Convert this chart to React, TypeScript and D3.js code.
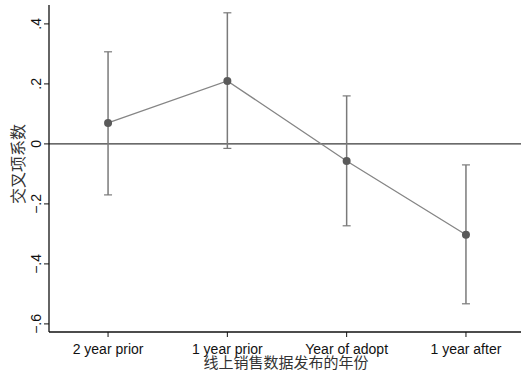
import React, { useRef, useEffect } from 'react';
import * as d3 from 'd3';

const categories = ['2 year prior', '1 year prior', 'Year of adopt', '1 year after'];
const coef = [0.07, 0.21, -0.057, -0.303];
const ciLow = [-0.17, -0.015, -0.273, -0.533];
const ciHigh = [0.307, 0.437, 0.16, -0.07];
const yTicks = [-0.6, -0.4, -0.2, 0, 0.2, 0.4];

const fmt = (v: number) => (v === 0 ? '0' : d3.format('.1f')(v).replace('0.', '.'));

const App = () => {
  const ref = useRef<SVGSVGElement>(null);

  useEffect(() => {
    const svg = d3.select(ref.current);
    svg.selectAll('*').remove();
    const width = 521;
    const left = 49, top = 5, bottom = 332;

    const x = d3.scaleLinear().domain([0.505, 4.5]).range([left, left + 119.3 * 3.995]);
    const y = d3.scaleLinear().domain([-0.627, 0.463]).range([bottom, top]);

    const g = svg.append('g');

    // zero line
    g.append('line')
      .attr('x1', left).attr('x2', width)
      .attr('y1', y(0)).attr('y2', y(0))
      .attr('stroke', '#3a3a3a').attr('stroke-width', 1.2);

    // error bars
    const bars = g.selectAll('.ci').data(categories).enter().append('g');
    bars.append('line')
      .attr('x1', (_, i) => x(i + 1)).attr('x2', (_, i) => x(i + 1))
      .attr('y1', (_, i) => y(ciLow[i])).attr('y2', (_, i) => y(ciHigh[i]))
      .attr('stroke', '#7a7a7a').attr('stroke-width', 1.5);
    [ciLow, ciHigh].forEach(arr => {
      bars.append('line')
        .attr('x1', (_, i) => x(i + 1) - 4).attr('x2', (_, i) => x(i + 1) + 4)
        .attr('y1', (_, i) => y(arr[i])).attr('y2', (_, i) => y(arr[i]))
        .attr('stroke', '#7a7a7a').attr('stroke-width', 1.2);
    });

    // connecting line
    const line = d3.line<number>().x((_, i) => x(i + 1)).y(d => y(d));
    g.append('path')
      .attr('d', line(coef))
      .attr('fill', 'none')
      .attr('stroke', '#858585').attr('stroke-width', 1.3);

    g.selectAll('.pt').data(coef).enter().append('circle')
      .attr('cx', (_, i) => x(i + 1)).attr('cy', d => y(d))
      .attr('r', 4).attr('fill', '#5a5a5a');

    // y axis
    g.append('line')
      .attr('x1', left).attr('x2', left).attr('y1', top).attr('y2', bottom)
      .attr('stroke', '#111').attr('stroke-width', 1.3);
    g.selectAll('.yt').data(yTicks).enter().append('line')
      .attr('x1', left - 5).attr('x2', left)
      .attr('y1', d => y(d)).attr('y2', d => y(d))
      .attr('stroke', '#111');
    g.selectAll('.yl').data(yTicks).enter().append('text')
      .attr('transform', d => `translate(${left - 8},${y(d)}) rotate(-90)`)
      .attr('text-anchor', 'middle')
      .style('font-family', 'Liberation Sans, Arial, sans-serif')
      .style('font-size', '14px')
      .attr('fill', '#111')
      .text(d => fmt(d));

    // x axis
    g.append('line')
      .attr('x1', left).attr('x2', width).attr('y1', bottom).attr('y2', bottom)
      .attr('stroke', '#111').attr('stroke-width', 1.3);
    g.selectAll('.xt').data(categories).enter().append('line')
      .attr('x1', (_, i) => x(i + 1)).attr('x2', (_, i) => x(i + 1))
      .attr('y1', bottom).attr('y2', bottom + 5)
      .attr('stroke', '#111');
    g.selectAll('.xl').data(categories).enter().append('text')
      .attr('x', (_, i) => x(i + 1)).attr('y', bottom + 22)
      .attr('text-anchor', 'middle')
      .style('font-family', 'Liberation Sans, Arial, sans-serif')
      .style('font-size', '14px')
      .attr('fill', '#111')
      .text(d => d);

    // titles
    g.append('text')
      .attr('x', 286).attr('y', 368)
      .attr('text-anchor', 'middle')
      .style('font-family', 'Noto Sans CJK SC, sans-serif')
      .style('font-size', '15px')
      .attr('fill', '#333')
      .text('线上销售数据发布的年份');
    g.append('text')
      .attr('transform', `translate(24,164) rotate(-90)`)
      .attr('text-anchor', 'middle')
      .style('font-family', 'Noto Sans CJK SC, sans-serif')
      .style('font-size', '16px')
      .attr('fill', '#333')
      .text('交叉项系数');
  }, []);

  return (
    <>
      <style>{`body { margin: 0; background: #fff; }`}</style>
      <svg ref={ref} width={521} height={374} style={{ display: 'block' }} />
    </>
  );
};

export default App;
